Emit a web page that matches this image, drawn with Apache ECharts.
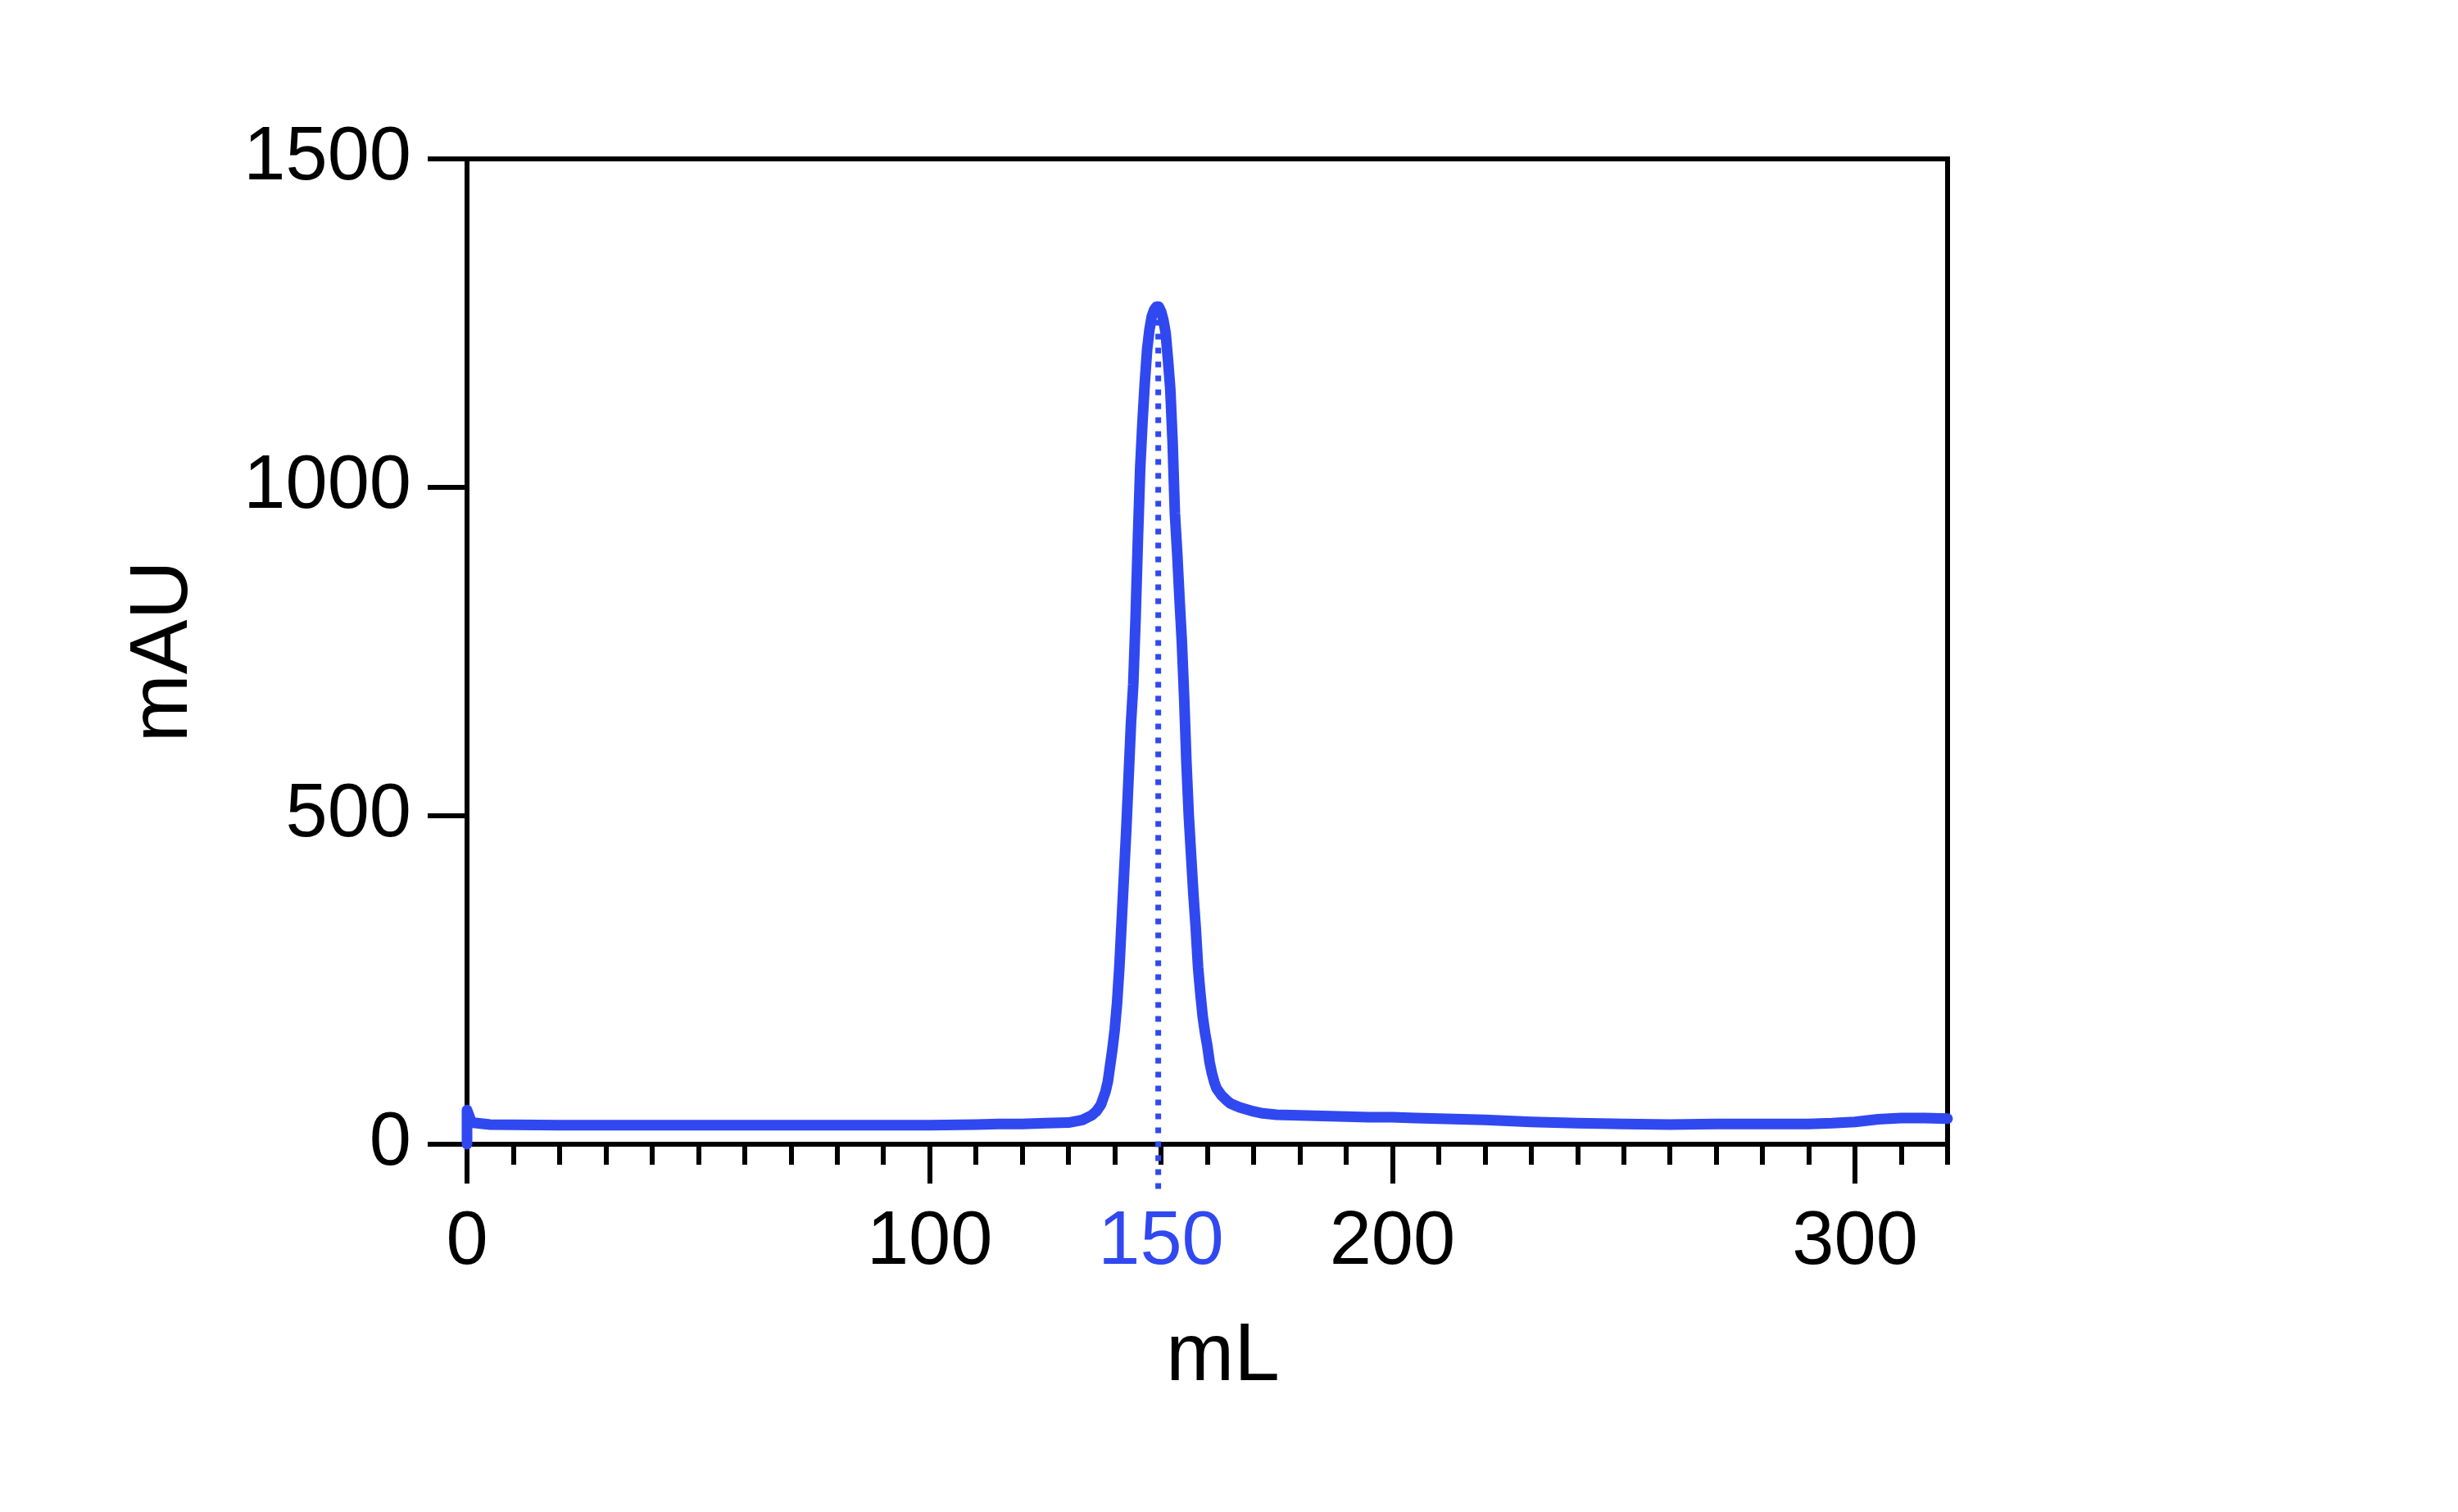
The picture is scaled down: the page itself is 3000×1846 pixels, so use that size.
<!DOCTYPE html>
<html>

<head>
    <meta charset="UTF-8">
    <title>mAU vs mL</title>
    <script src="https://cdn.jsdelivr.net/npm/echarts@6/dist/echarts.min.js"></script>
    <style>
        html, body { margin: 0; padding: 0; background: #fff; }
    </style>
</head>

<body>
    <div id="main" style="width: 3000px; height: 1846px;"></div>

    <script>
        // 曲线数据 (mL, mAU)
        var volume = [0, 0, 1, 5, 20, 50, 80, 100, 110, 115, 120, 125, 130, 133, 135, 136, 137, 138, 138.5, 139,
            139.5, 140, 140.5, 141, 141.5, 142, 142.5, 143, 143.5, 144, 144.5, 145, 145.5, 146, 146.5, 147,
            147.5, 148, 148.5, 149, 149.5, 150, 150.5, 151, 151.5, 152, 152.5, 153, 153.5, 154, 154.5, 155,
            155.5, 156, 156.5, 157, 157.5, 158, 158.5, 159, 159.5, 160, 160.5, 161, 161.5, 162, 163, 164,
            165, 167, 170, 172, 175, 180, 185, 190, 195, 200, 205, 210, 220, 230, 240, 250, 260, 270, 280,
            290, 295, 300, 305, 310, 315, 320];
        var absorbance = [0, 52, 33, 30, 29, 29, 29, 29, 30, 31, 31, 32, 33, 37, 44, 50, 60, 80, 95, 120,
            145, 175, 215, 270, 340, 410, 480, 560, 640, 700, 800, 920, 1030, 1100, 1160, 1210,
            1240, 1260, 1270, 1275, 1275, 1268, 1255, 1235, 1195, 1150, 1070, 960, 900, 830, 765, 680,
            580, 500, 440, 380, 330, 270, 230, 195, 170, 150, 125, 108, 95, 85, 75, 68,
            62, 56, 50, 47, 45, 44, 43, 42, 41, 41, 40, 39, 37, 34, 32, 31, 30, 31, 31,
            31, 32, 34, 38, 40, 40, 39];

        // 峰位虚线
        var peakMarkX = [149.4, 149.4];
        var peakMarkY = [1255, -72];

        // 刻度
        var xLabelValues = [0, 100, 150, 200, 300];
        var xMajorTicks = [0, 100, 200, 300];
        var highlightValue = 150;

        var blue = '#3048F0';
        var fontName = 'Liberation Sans, Arial, sans-serif';

        var curve = volume.map(function (v, i) { return [v, absorbance[i]]; });
        var peakLine = peakMarkX.map(function (v, i) { return [v, peakMarkY[i]]; });

        var myChart = echarts.init(document.getElementById('main'));

        var option = {
            backgroundColor: '#fff',
            animation: false,
            grid: {
                left: 570,
                right: 623,
                top: 194,
                bottom: 449,
                show: true,
                borderColor: '#000',
                borderWidth: 6
            },
            xAxis: [
                {
                    type: 'value',
                    position: 'bottom',
                    min: 0,
                    max: 320,
                    interval: 10,
                    name: 'mL',
                    nameLocation: 'middle',
                    nameGap: 210,
                    nameTextStyle: { fontSize: 100, color: '#000', fontFamily: fontName, padding: [0, 0, 0, 38] },
                    axisLine: { onZero: false, lineStyle: { color: '#000', width: 6 } },
                    axisTick: { length: 25, lineStyle: { color: '#000', width: 6 } },
                    splitLine: { show: false },
                    axisLabel: {
                        customValues: xLabelValues,
                        margin: 75,
                        fontSize: 92,
                        color: '#000',
                        fontFamily: fontName,
                        formatter: function (v) {
                            return v === highlightValue ? '{hl|' + v + '}' : String(v);
                        },
                        rich: {
                            hl: { color: blue, fontSize: 92, fontFamily: fontName }
                        }
                    }
                },
                {
                    // 长刻度
                    type: 'value',
                    position: 'bottom',
                    min: 0,
                    max: 320,
                    interval: 100,
                    axisLine: { show: false, onZero: false },
                    axisTick: {
                        customValues: xMajorTicks,
                        length: 48,
                        lineStyle: { color: '#000', width: 6 }
                    },
                    axisLabel: { show: false },
                    splitLine: { show: false }
                }
            ],
            yAxis: {
                type: 'value',
                min: 0,
                max: 1500,
                interval: 500,
                name: 'mAU',
                nameLocation: 'middle',
                nameGap: 320,
                nameTextStyle: { fontSize: 100, color: '#000', fontFamily: fontName },
                axisLine: { show: true, onZero: false, lineStyle: { color: '#000', width: 6 } },
                axisTick: { show: true, length: 48, lineStyle: { color: '#000', width: 6 } },
                splitLine: { show: false },
                axisLabel: {
                    margin: 68, fontSize: 92, color: '#000', fontFamily: fontName,
                    formatter: function (v) { return String(v); }
                }
            },
            series: [
                {
                    type: 'line',
                    data: curve,
                    showSymbol: false,
                    clip: false,
                    z: 3,
                    lineStyle: { color: blue, width: 13, cap: 'round', join: 'round' }
                },
                {
                    // 峰位虚线
                    type: 'line',
                    data: peakLine,
                    showSymbol: false,
                    clip: false,
                    z: 4,
                    lineStyle: { color: blue, width: 7, type: [7, 10] }
                }
            ]
        };

        myChart.setOption(option);
    </script>
</body>

</html>
